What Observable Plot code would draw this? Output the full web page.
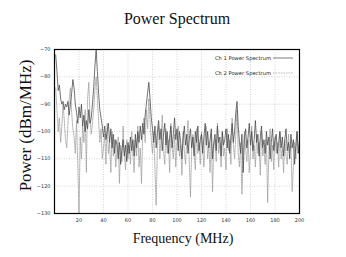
<!DOCTYPE html>
<html><head><meta charset="utf-8">
<script src="https://cdn.jsdelivr.net/npm/d3@7"></script>
<script src="https://cdn.jsdelivr.net/npm/@observablehq/plot@0.6"></script>
<style>
body{margin:0;background:#fff;width:346px;height:257px;overflow:hidden;position:relative}
#legend{position:absolute;left:215px;top:50.5px;font-family:"DejaVu Sans",sans-serif;font-size:5.2px;color:#222}
#legend div{height:15px;display:flex;align-items:center}
#legend svg{margin-left:2px}
</style></head><body>
<div id="chart"></div>
<div id="legend"></div>
<script>
const title = "Power Spectrum";
const xLabel = "Frequency (MHz)";
const yLabel = "Power (dBm/MHz)";
const seriesNames = ["Ch 1 Power Spectrum", "Ch 2 Power Spectrum"];
const xTicks = [20, 40, 60, 80, 100, 120, 140, 160, 180, 200];
const yTicks = [-70, -80, -90, -100, -110, -120, -130];
const freq = d3.range(1, 201);
const ch1 = [
-72,-78,-85,-83,-88,-90,-89,-92,-90,-91,
-89,-94,-90,-86,-81,-84,-90,-93,-97,-91,
-95,-90,-98,-94,-100,-96,-99,-92,-97,-95,
-90,-84,-76,-70,-78,-86,-92,-95,-98,-102,
-98,-103,-100,-97,-104,-99,-106,-101,-108,-103,
-105,-110,-104,-112,-107,-103,-109,-105,-111,-104,
-108,-102,-107,-103,-109,-101,-106,-100,-104,-98,
-103,-97,-101,-94,-90,-86,-82,-88,-95,-99,
-104,-98,-106,-100,-96,-103,-99,-107,-101,-97,
-105,-100,-108,-102,-98,-106,-101,-95,-103,-99,
-107,-100,-104,-110,-102,-98,-105,-101,-108,-103,
-99,-106,-102,-109,-100,-104,-98,-107,-103,-101,
-108,-102,-97,-105,-100,-106,-103,-99,-110,-104,
-101,-107,-98,-104,-102,-109,-100,-105,-103,-99,
-106,-101,-108,-102,-97,-104,-100,-93,-89,-98,
-104,-108,-101,-115,-103,-99,-106,-102,-97,-105,
-100,-107,-103,-96,-104,-101,-109,-102,-98,-106,
-103,-108,-100,-105,-102,-110,-104,-99,-107,-103,
-101,-108,-104,-100,-106,-102,-109,-103,-99,-107,
-104,-110,-101,-106,-103,-112,-105,-100,-108,-104];
const ch2 = [
-84,-92,-100,-95,-104,-98,-90,-96,-103,-106,
-97,-88,-84,-93,-99,-102,-108,-96,-112,-130,
-102,-110,-98,-104,-92,-115,-88,-82,-95,-101,
-97,-92,-85,-80,-88,-96,-104,-99,-110,-106,
-101,-112,-97,-108,-104,-115,-100,-109,-103,-113,
-107,-102,-119,-105,-111,-98,-108,-114,-103,-110,
-105,-112,-100,-108,-115,-103,-109,-98,-113,-106,
-119,-101,-95,-104,-92,-99,-88,-96,-103,-108,
-100,-114,-127,-105,-98,-110,-102,-94,-107,-112,
-99,-108,-103,-115,-97,-106,-110,-101,-113,-104,
-98,-109,-105,-116,-100,-107,-112,-103,-96,-111,
-124,-106,-101,-109,-114,-99,-108,-104,-112,-100,
-107,-113,-102,-98,-110,-105,-115,-101,-122,-106,
-103,-111,-97,-108,-104,-113,-100,-109,-106,-114,
-99,-107,-103,-112,-95,-105,-110,-101,-92,-108,
-113,-104,-123,-109,-100,-106,-111,-103,-115,-107,
-98,-110,-105,-113,-101,-108,-104,-116,-100,-109,
-106,-112,-103,-126,-107,-99,-111,-105,-114,-102,
-108,-104,-113,-100,-110,-106,-115,-103,-109,-112,
-101,-107,-105,-122,-113,-104,-110,-100,-108,-103];

const d1 = freq.map((f, i) => ({f, p: ch1[i]}));
const d2 = freq.map((f, i) => ({f, p: ch2[i]}));
const styles = [{stroke:"#444", width:0.75, dash:null}, {stroke:"#999", width:0.75, dash:"1.6,1"}];
const serif = "Liberation Serif, serif";

const chart = Plot.plot({
  width: 346, height: 257,
  marginLeft: 54, marginRight: 47, marginTop: 49, marginBottom: 44,
  x: {domain: [0, 200], ticks: xTicks, tickSize: 0, label: null},
  y: {domain: [-130, -70], ticks: yTicks, tickSize: 0, label: null},
  style: {fontFamily: "DejaVu Sans, sans-serif", fontSize: "5px", color: "#333", background: "#fff"},
  marks: [
    Plot.gridX(xTicks, {stroke: "#bbb", strokeOpacity: 1, strokeWidth: 0.6, strokeDasharray: "1,1.5"}),
    Plot.gridY(yTicks, {stroke: "#bbb", strokeOpacity: 1, strokeWidth: 0.6, strokeDasharray: "1,1.5"}),
    Plot.line(d2, {x: "f", y: "p", stroke: styles[1].stroke, strokeWidth: styles[1].width, strokeDasharray: styles[1].dash}),
    Plot.line(d1, {x: "f", y: "p", stroke: styles[0].stroke, strokeWidth: styles[0].width}),
    Plot.axisX({ticks: xTicks, tickSize: 0, tickPadding: 5, label: null}),
    Plot.axisY({ticks: yTicks, tickSize: 0, tickPadding: 4, label: null}),
    Plot.frame({stroke: "#000", strokeWidth: 1.2}),
    Plot.text([title], {frameAnchor: "top", textAnchor: "middle", lineAnchor: "middle", dy: -31, fontSize: 16, fontFamily: serif, fill: "#111"}),
    Plot.text([xLabel], {frameAnchor: "bottom", textAnchor: "middle", lineAnchor: "middle", dx: 6, dy: 25, fontSize: 14, fontFamily: serif, fill: "#111"}),
    Plot.text([yLabel], {frameAnchor: "left", textAnchor: "middle", lineAnchor: "middle", rotate: -90, dx: -29, dy: -6, fontSize: 17, fontFamily: serif, fill: "#111"})
  ]
});
document.getElementById("chart").appendChild(chart);

const leg = document.getElementById("legend");
seriesNames.forEach((n, i) => {
  const row = document.createElement("div");
  row.innerHTML = `<span>${n}</span><svg width="20" height="4"><line x1="0" x2="20" y1="2" y2="2" stroke="${styles[i].stroke}" stroke-width="0.7" ${styles[i].dash ? `stroke-dasharray="${styles[i].dash}"` : ""}/></svg>`;
  leg.appendChild(row);
});
</script>
</body></html>
